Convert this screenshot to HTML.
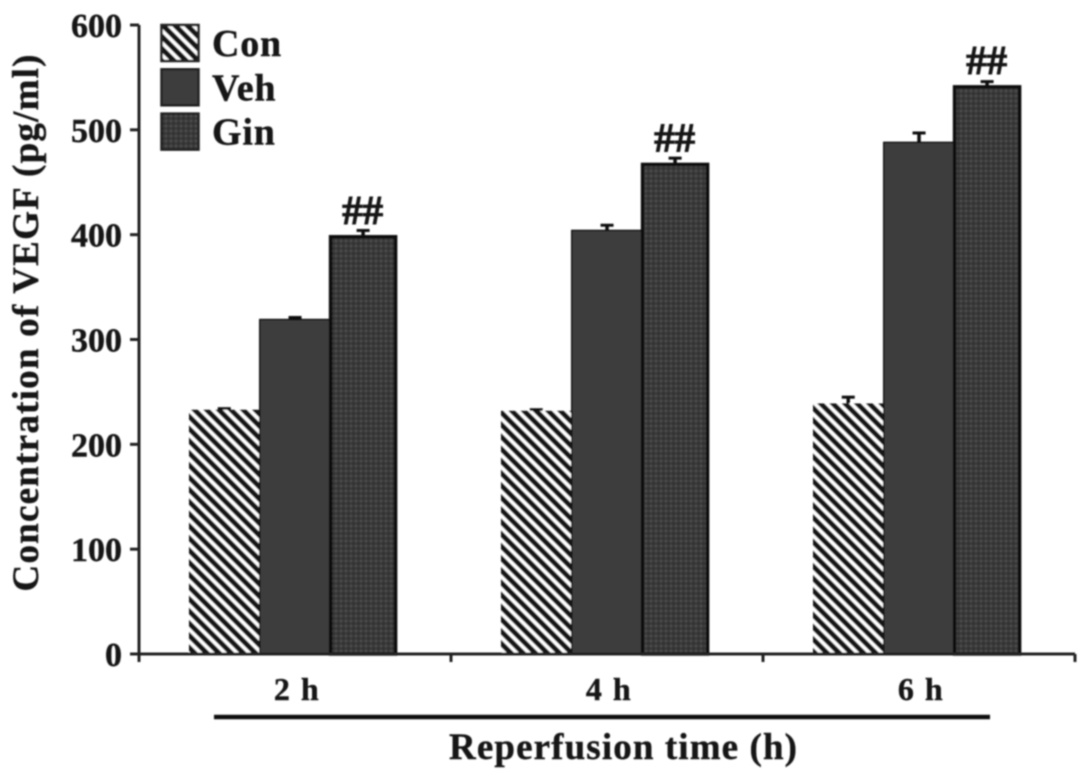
<!DOCTYPE html>
<html>
<head>
<meta charset="utf-8">
<style>
html,body{margin:0;padding:0;background:#fff;width:1087px;height:780px;overflow:hidden}
svg{display:block}
text{font-family:"Liberation Serif",serif;font-weight:bold;fill:#151515}
</style>
</head>
<body>
<svg id="chart" xmlns="http://www.w3.org/2000/svg" width="1087" height="780" viewBox="0 0 1087 780">
<defs>
<pattern id="hatch" patternUnits="userSpaceOnUse" width="8.6" height="8.6" patternTransform="rotate(-45)">
<rect width="8.6" height="8.6" fill="#fff"/>
<rect x="0" width="5.2" height="8.6" fill="#141414"/>
</pattern>
<pattern id="dots" patternUnits="userSpaceOnUse" width="5" height="5">
<rect width="5" height="5" fill="#3a3a3a"/>
<rect width="2" height="2" fill="#505050"/>
<rect x="2.5" y="2.5" width="2" height="2" fill="#2a2a2a"/>
</pattern>
<filter id="soft" x="-5%" y="-5%" width="110%" height="110%"><feGaussianBlur stdDeviation="0.7"/></filter>
</defs>
<g id="root" filter="url(#soft)"></g>
</svg>
<script>
const categories = ['2 h', '4 h', '6 h'];
const seriesNames = ['Con', 'Veh', 'Gin'];
const conValues = [233, 232, 239];
const vehValues = [319, 404, 488];
const ginValues = [398, 467, 541];
const conErrors = [1, 1, 6];
const vehErrors = [2, 5, 9];
const ginErrors = [6, 6, 5];
const yTicks = [0, 100, 200, 300, 400, 500, 600];
const significance = ['##', '##', '##'];

const NS = 'http://www.w3.org/2000/svg';
const root = document.getElementById('root');
const seriesValues = [conValues, vehValues, ginValues];
const seriesErrors = [conErrors, vehErrors, ginErrors];
const seriesFill = ['url(#hatch)', '#3c3c3c', 'url(#dots)'];
const seriesKeys = ['con', 'veh', 'gin'];

function yScale(v) { return 654 - v * (629 / 600); }
function groupLeft(i) { return 139 + i * 312; }
function barLeft(i, s) { return groupLeft(i) + 50 + s * 70.8; }
const barWidth = 70.5;

function make(tag, attrs, text) {
  const el = document.createElementNS(NS, tag);
  for (const k in attrs) el.setAttribute(k, attrs[k]);
  if (text !== undefined) el.textContent = text;
  root.appendChild(el);
  return el;
}

categories.forEach(function (cat, i) {
  seriesKeys.forEach(function (key, s) {
    const x = barLeft(i, s);
    const w = s === 2 ? 65 : barWidth;
    const y = yScale(seriesValues[s][i]);
    const e = seriesErrors[s][i];
    const top = yScale(seriesValues[s][i] + e);
    const stem = make('line', {x1: x + w / 2, x2: x + w / 2, y1: y, y2: top, stroke: '#111', 'stroke-width': 3.5});
    
    
    const cap = make('line', {x1: x + w / 2 - 6.5, x2: x + w / 2 + 6.5, y1: top, y2: top, stroke: '#111', 'stroke-width': 3});
    
    
    const bar = make('rect', {x: x, y: y, width: w, height: 654 - y, fill: seriesFill[s],
      stroke: s === 0 ? 'none' : '#111', 'stroke-width': s === 2 ? 3.5 : 1.5});
    
    
  });
  const sigX = barLeft(i, 2) + 32;
  const sig = make('text', {x: sigX, y: yScale(ginValues[i]) - 13, 'text-anchor': 'middle', 'font-size': 41, stroke: '#151515', 'stroke-width': 0.9}, significance[i]);
  
  
  const lab = make('text', {x: groupLeft(i) + 158, y: 700, 'text-anchor': 'middle', 'font-size': 32, 'letter-spacing': 1.5, stroke: '#151515', 'stroke-width': 0.4}, cat);
  
  
});

const yAxis = make('line', {x1: 139, x2: 139, y1: 25, y2: 662, stroke: '#222', 'stroke-width': 3});


const xAxis = make('line', {x1: 130, x2: 1075, y1: 654, y2: 654, stroke: '#222', 'stroke-width': 3});



yTicks.forEach(function (t) {
  const y = yScale(t);
  const tick = make('line', {x1: 130, x2: 139, y1: y, y2: y, stroke: '#222', 'stroke-width': 3});
  
  
  const lab = make('text', {x: 122, y: y + 12, 'text-anchor': 'end', 'font-size': 34, stroke: '#151515', 'stroke-width': 0.4}, String(t));
  
  
});

for (let i = 1; i <= categories.length; i++) {
  const x = groupLeft(i);
  const tick = make('line', {x1: x, x2: x, y1: 654, y2: 662, stroke: '#222', 'stroke-width': 3});
  
  
}

const under = make('line', {x1: 214, x2: 990, y1: 717, y2: 717, stroke: '#111', 'stroke-width': 4.5});



const xTitle = make('text', {x: 623, y: 759, 'text-anchor': 'middle', 'font-size': 37, textLength: 348, lengthAdjust: 'spacing', stroke: '#151515', 'stroke-width': 0.4}, 'Reperfusion time (h)');



const yTitle = make('text', {x: 0, y: 0, transform: 'translate(38 323) rotate(-90)', 'text-anchor': 'middle', 'font-size': 37, textLength: 537, lengthAdjust: 'spacing', stroke: '#151515', 'stroke-width': 0.4}, 'Concentration of VEGF (pg/ml)');



seriesNames.forEach(function (name, s) {
  const y = 25 + s * 44.3;
  const box = make('rect', {x: 161.5, y: y, width: 37, height: 36, fill: seriesFill[s], stroke: '#222', 'stroke-width': 2.5});
  
  
  const lab = make('text', {x: 212, y: y + 31, 'font-size': 38, 'letter-spacing': 0.8, stroke: '#151515', 'stroke-width': 0.4}, name);
  
  
});
</script>
</body>
</html>
